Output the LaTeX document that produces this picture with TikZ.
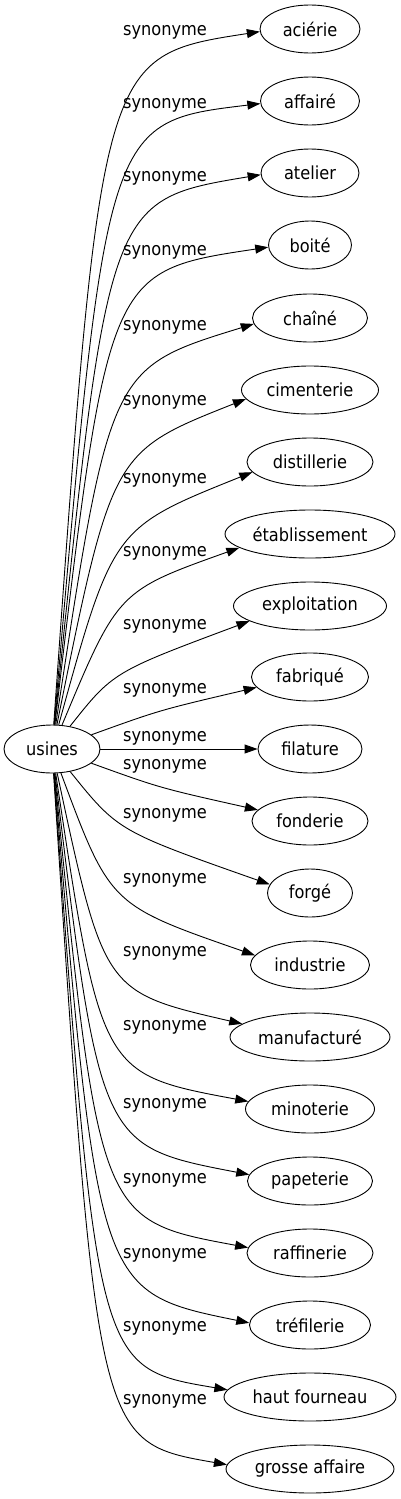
\documentclass[tikz,border=0pt]{standalone}
\usepackage{fontspec}
\setmainfont{DejaVu Sans Condensed}
\usetikzlibrary{arrows.meta,shapes.geometric}
\begin{document}
\begin{tikzpicture}[x = 1pt, y = -1pt,
                    wnode/.style = {shape = ellipse,
                                    draw,
                                    line width = 0.9pt,
                                    inner xsep = 0pt,
                                    minimum height = 48pt,
                                    font = \fontsize{18}{21}\selectfont},
                    slabel/.style = {inner sep = 0pt,
                                     font = \fontsize{18}{21}\selectfont},
                    syn/.style = {line width = 0.9pt,
                                  -{Triangle[length = 13pt, width = 9pt]}}]
		\useasboundingbox (0,0) rectangle (401,1499);
		\node[wnode, minimum width = 96pt] (0) at (52,749) {usines};
		\node[wnode, minimum width = 100pt] (1) at (310,29) {aciérie};
		\node[wnode, minimum width = 99pt] (2) at (310,101) {affairé};
		\node[wnode, minimum width = 98pt] (3) at (310,173) {atelier};
		\node[wnode, minimum width = 83pt] (4) at (310,245) {boité};
		\node[wnode, minimum width = 115pt] (5) at (310,318) {chaîné};
		\node[wnode, minimum width = 137pt] (6) at (310,390) {cimenterie};
		\node[wnode, minimum width = 126pt] (7) at (310,462) {distillerie};
		\node[wnode, minimum width = 170pt] (8) at (310,534) {établissement};
		\node[wnode, minimum width = 153pt] (9) at (310,606) {exploitation};
		\node[wnode, minimum width = 117pt] (10) at (310,677) {fabriqué};
		\node[wnode, minimum width = 104pt] (11) at (310,749) {filature};
		\node[wnode, minimum width = 116pt] (12) at (310,821) {fonderie};
		\node[wnode, minimum width = 85pt] (13) at (310,893) {forgé};
		\node[wnode, minimum width = 119pt] (14) at (310,965) {industrie};
		\node[wnode, minimum width = 160pt] (15) at (310,1037) {manufacturé};
		\node[wnode, minimum width = 129pt] (16) at (310,1109) {minoterie};
		\node[wnode, minimum width = 125pt] (17) at (310,1181) {papeterie};
		\node[wnode, minimum width = 126pt] (18) at (310,1253) {raffinerie};
		\node[wnode, minimum width = 121pt] (19) at (310,1325) {tréfilerie};
		\node[wnode, minimum width = 172pt] (20) at (310,1397) {haut fourneau};
		\node[wnode, minimum width = 168pt] (21) at (310,1469) {grosse affaire};
		% labels
		\node[slabel] (s1) at (165,32) {synonyme};
		\node[slabel] (s2) at (165,105) {synonyme};
		\node[slabel] (s3) at (165,178) {synonyme};
		\node[slabel] (s4) at (165,252) {synonyme};
		\node[slabel] (s5) at (165,327) {synonyme};
		\node[slabel] (s6) at (165,402) {synonyme};
		\node[slabel] (s7) at (165,480) {synonyme};
		\node[slabel] (s8) at (165,553) {synonyme};
		\node[slabel] (s9) at (165,626) {synonyme};
		\node[slabel] (s10) at (165,690) {synonyme};
		\node[slabel] (s11) at (165,738) {synonyme};
		\node[slabel] (s12) at (165,766) {synonyme};
		\node[slabel] (s13) at (165,815) {synonyme};
		\node[slabel] (s14) at (165,880) {synonyme};
		\node[slabel] (s15) at (165,953) {synonyme};
		\node[slabel] (s16) at (165,1027) {synonyme};
		\node[slabel] (s17) at (165,1105) {synonyme};
		\node[slabel] (s18) at (165,1180) {synonyme};
		\node[slabel] (s19) at (165,1255) {synonyme};
		\node[slabel] (s20) at (165,1328) {synonyme};
		\node[slabel] (s21) at (165,1401) {synonyme};
		% edges
		\draw[syn] (0) .. controls (101,56) .. (1.183);
		\draw[syn] (0) .. controls (106,122) .. (2.183);
		\draw[syn] (0) .. controls (108,200) .. (3.182);
		\draw[syn] (0) .. controls (108,271) .. (4.183);
		\draw[syn] (0) .. controls (110,368) .. (5.186);
		\draw[syn] (0) .. controls (112,452) .. (6.188);
		\draw[syn] (0) .. controls (113,528) .. (7.190);
		\draw[syn] (0) .. controls (118,591) .. (8.191);
		\draw[syn] (0) .. controls (113,672) .. (9.194);
		\draw[syn] (0) .. controls (160,710) .. (10.191);
		\draw[syn] (0) -- (11);
		\draw[syn] (0) .. controls (160,788) .. (12.168);
		\draw[syn] (0) .. controls (118,831) .. (13.168);
		\draw[syn] (0) .. controls (110,905) .. (14.170);
		\draw[syn] (0) .. controls (104,992) .. (15.169);
		\draw[syn] (0) .. controls (101,1074) .. (16.173);
		\draw[syn] (0) .. controls (100,1146) .. (17.174);
		\draw[syn] (0) .. controls (99,1220) .. (18.175);
		\draw[syn] (0) .. controls (98,1292) .. (19.178);
		\draw[syn] (0) .. controls (97,1368) .. (20.175);
		\draw[syn] (0) .. controls (97,1442) .. (21.177);
	\end{tikzpicture}
\end{document}
